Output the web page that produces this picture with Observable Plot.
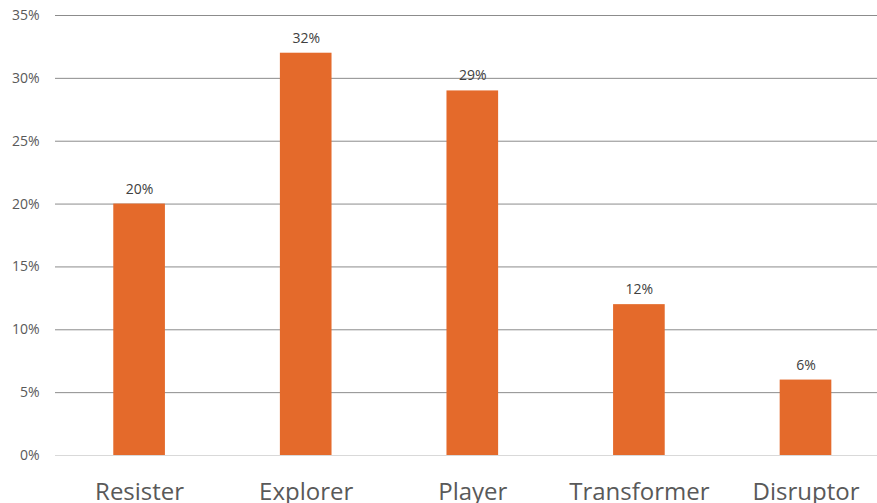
<!DOCTYPE html>
<html><head><meta charset="utf-8">
<script src="https://cdn.jsdelivr.net/npm/d3@7"></script>
<script src="https://cdn.jsdelivr.net/npm/@observablehq/plot@0.6"></script>
<style>body{margin:0;background:#fff;overflow:hidden}</style>
</head><body><div id="chart"></div>
<script>
const categories = ["Resister", "Explorer", "Player", "Transformer", "Disruptor"];
const values = [20, 32, 29, 12, 6];
const yTicks = [0, 5, 10, 15, 20, 25, 30, 35];
const data = categories.map((c, i) => ({category: c, value: values[i]}));

const chart = Plot.plot({
  width: 877, height: 503,
  marginLeft: 55, marginRight: 0, marginTop: 15, marginBottom: 48,
  style: {fontFamily: "'Open Sans', sans-serif", background: "#fff"},
  x: {domain: categories, range: [55.8, 888.8], round: false, paddingInner: 0.69, paddingOuter: 0.345, label: null},
  y: {domain: [0, 35], range: [455, 15], label: null},
  marks: [
    Plot.ruleY(yTicks.filter(d => d > 0), {stroke: "#8c8c8c", strokeWidth: 1}),
    Plot.ruleY([0], {stroke: "#d9d9d9", strokeWidth: 1}),
    Plot.barY(data, {x: "category", y: "value", fill: "#E46A2B"}),
    Plot.text(data, {x: "category", y: "value", text: d => d.value + "%", dy: -15, fontSize: 14, fill: "#404040"}),
    Plot.axisY(yTicks, {tickSize: 0, tickPadding: 16, tickFormat: d => d + "%", fontSize: 14, fill: "#595959"}),
    Plot.axisX({tickSize: 0, tickPadding: 27, fontSize: 24, fill: "#595959"})
  ]
});
document.getElementById("chart").appendChild(chart);
</script>
</body></html>
